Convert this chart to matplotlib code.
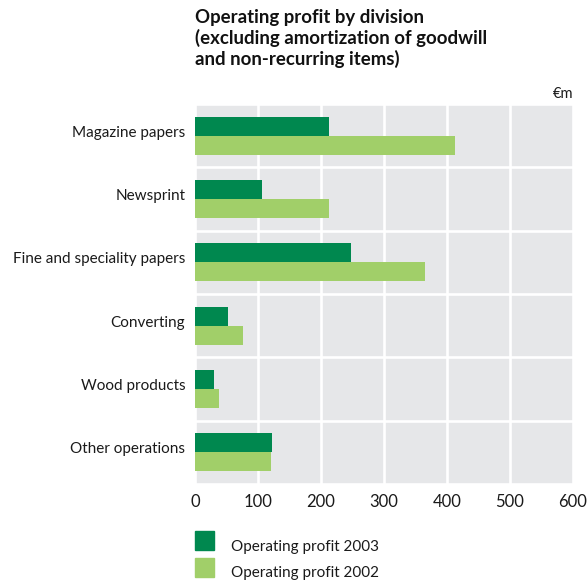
import matplotlib.pyplot as plt
from matplotlib.patches import Rectangle
import numpy as np

divisions = ["Magazine papers", "Newsprint", "Fine and speciality papers",
             "Converting", "Wood products", "Other operations"]
profit_2003 = [213, 106, 248, 52, 30, 122]
profit_2002 = [413, 213, 365, 76, 38, 120]
x_ticks = [0, 100, 200, 300, 400, 500, 600]

dark_green = "#00884f"
light_green = "#a1cf69"
cell_gray = "#e6e7e9"

plt.rcParams['font.family'] = ['Lato', 'DejaVu Sans']

fig = plt.figure(figsize=(5.88, 5.81), dpi=100)
ax = fig.add_axes([195 / 588, 1 - 484 / 581, 378 / 588, 380 / 581])
ax.set_facecolor(cell_gray)

rows = np.arange(len(divisions))
bar_h = 0.3
ax.barh(rows - bar_h / 2, profit_2003, height=bar_h, color=dark_green, zorder=3)
ax.barh(rows + bar_h / 2, profit_2002, height=bar_h, color=light_green, zorder=3)

# white lines splitting the gray background into cells
for xv in x_ticks:
    ax.axvline(xv, color="white", lw=1.9, zorder=1)
for yv in np.arange(len(divisions) + 1) - 0.5:
    ax.axhline(yv, color="white", lw=1.9, zorder=1)

ax.set_xlim(0, 600)
ax.set_ylim(len(divisions) - 0.5, -0.5)
ax.set_xticks(x_ticks)
ax.set_yticks(rows - 0.07)
ax.set_yticklabels(divisions)
ax.tick_params(length=0, labelsize=11, colors="#1a1a1a")
ax.tick_params(axis='x', pad=7, labelsize=12)
ax.tick_params(axis='y', pad=7)
for s in ax.spines.values():
    s.set_visible(False)

fig.text(195 / 588, 1 - 9 / 581,
         "Operating profit by division\n(excluding amortization of goodwill\nand non-recurring items)",
         ha="left", va="top", fontsize=13.4, fontweight="bold", linespacing=1.2,
         color="#111111")
fig.text(573 / 588, 1 - 94 / 581, "€m", ha="right", va="center", fontsize=10.5,
         color="#1a1a1a")

# legend
legend_items = [("Operating profit 2003", dark_green, 540.5),
                ("Operating profit 2002", light_green, 567.5)]
for label, color, yc in legend_items:
    fig.patches.append(Rectangle((195 / 588, 1 - (yc + 9.5) / 581), 19 / 588, 19 / 581,
                                 transform=fig.transFigure, color=color))
    fig.text(231 / 588, 1 - (yc + 6) / 581, label, ha="left", va="center",
             fontsize=11, color="#1a1a1a")

fig.savefig("out.png", dpi=100)
